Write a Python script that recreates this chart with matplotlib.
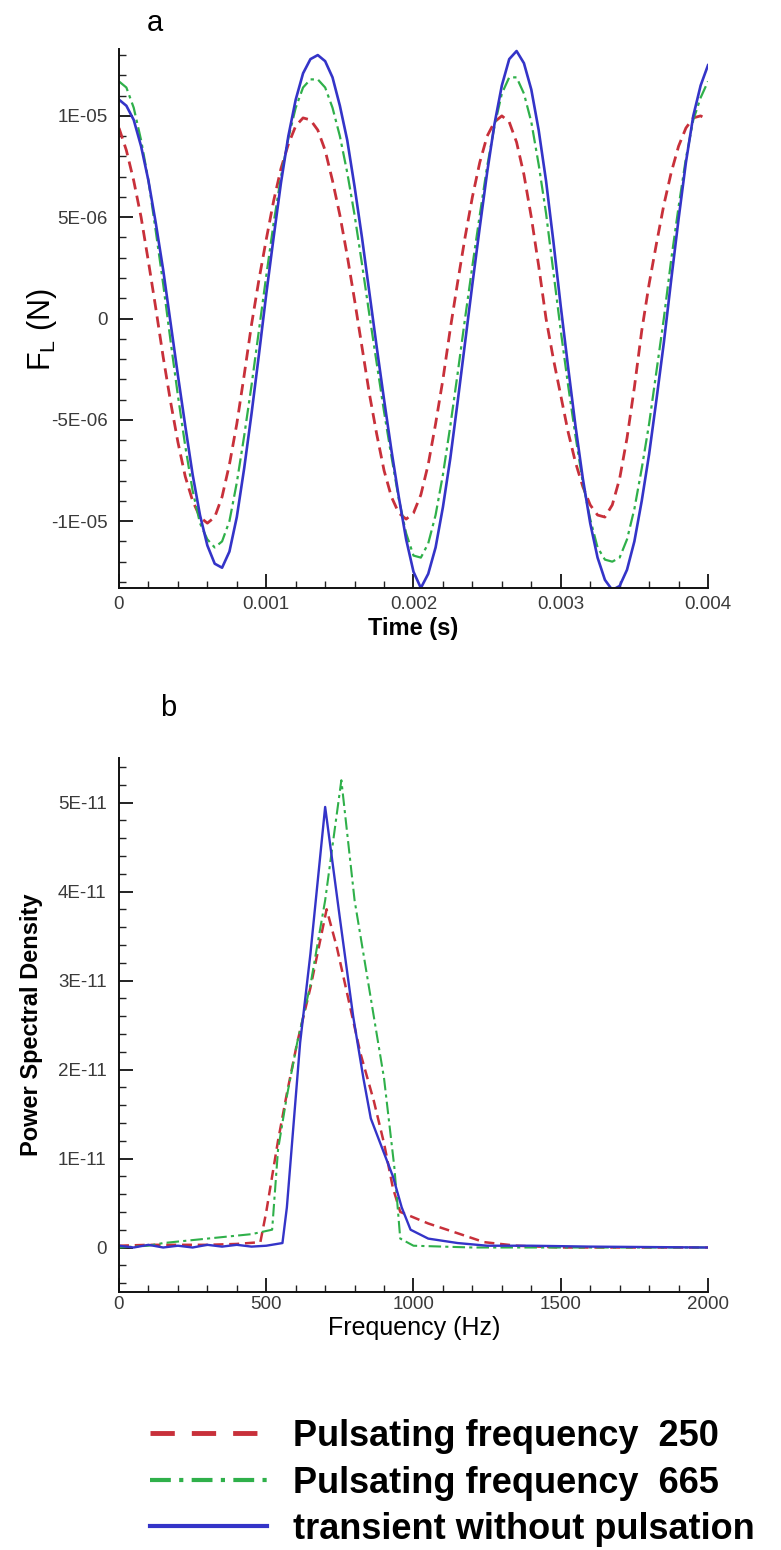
import numpy as np
import matplotlib
matplotlib.use("Agg")
import matplotlib.pyplot as plt
from matplotlib.lines import Line2D
from matplotlib.ticker import MultipleLocator

plt.rcParams['font.family'] = ['Liberation Sans', 'DejaVu Sans']
plt.rcParams['mathtext.fontset'] = 'custom'
plt.rcParams['mathtext.rm'] = 'Liberation Sans'

# ---------------- lift force vs time (values in 1e-6 N, every 5e-5 s) ----------------
time_s = np.linspace(0.0, 0.004, 81)

lift_250 = [9.4, 8.3, 6.8, 5.0, 2.8, 0.5, -1.9, -4.1, -6.1, -7.8,
            -9.0, -9.8, -10.1, -9.8, -8.8, -7.2, -5.2, -2.8, -0.3, 1.9,
            3.9, 5.8, 7.4, 8.6, 9.5, 9.9, 9.8, 9.3, 8.3, 6.8,
            5.1, 3.1, 0.9, -1.4, -3.7, -5.7, -7.5, -8.8, -9.6, -9.9,
            -9.6, -8.7, -7.2, -5.2, -3.0, -0.5, 1.8, 4.0, 6.0, 7.7,
            9.0, 9.7, 10.0, 9.7, 8.7, 7.1, 5.0, 2.6, 0.0, -2.0,
            -3.8, -5.6, -7.1, -8.3, -9.2, -9.7, -9.8, -9.2, -7.9, -5.9,
            -3.4, -0.6, 1.7, 3.7, 5.6, 7.2, 8.5, 9.4, 9.9, 10.0,
            9.8]

lift_665 = [11.7, 11.4, 10.4, 8.8, 6.8, 4.3, 1.7, -1.1, -3.8, -6.3,
            -8.5, -10.1, -10.9, -11.3, -11.0, -10.0, -8.1, -5.8, -3.3, -0.6,
            2.1, 4.7, 7.0, 8.9, 10.4, 11.4, 11.8, 11.8, 11.4, 10.4,
            9.0, 7.2, 5.1, 2.7, 0.2, -2.2, -4.6, -6.8, -8.9, -10.6,
            -11.7, -11.8, -11.1, -9.7, -7.7, -5.3, -2.7, 0.0, 2.6, 5.1,
            7.5, 9.5, 11.1, 11.9, 11.9, 11.1, 9.7, 7.6, 5.2, 2.3,
            -0.6, -3.3, -5.8, -8.1, -9.9, -11.3, -11.9, -12.0, -11.8, -10.9,
            -9.4, -7.4, -5.2, -2.6, 0.0, 2.9, 5.5, 7.9, 9.8, 10.9,
            11.7]

lift_steady = [10.8, 10.5, 9.8, 8.5, 6.8, 4.7, 2.4, -0.2, -2.8, -5.3,
               -7.7, -9.7, -11.2, -12.1, -12.3, -11.5, -9.8, -7.4, -4.7, -1.8,
               1.2, 4.0, 6.7, 9.0, 10.8, 12.1, 12.8, 13.0, 12.7, 11.9,
               10.5, 8.8, 6.5, 4.0, 1.3, -1.4, -4.0, -6.5, -8.8, -10.9,
               -12.5, -13.3, -12.6, -11.3, -9.3, -6.9, -4.1, -1.2, 1.7, 4.5,
               7.2, 9.6, 11.5, 12.8, 13.2, 12.6, 11.3, 9.3, 6.8, 3.8,
               0.6, -2.4, -5.3, -7.9, -10.1, -11.8, -12.9, -13.4, -13.2, -12.4,
               -11.0, -9.0, -6.7, -4.0, -1.2, 1.9, 4.9, 7.7, 10.0, 11.5,
               12.5]

# ---------------- power spectral density (values in 1e-11) ----------------
freq_250 = [0, 100, 200, 300, 400, 480, 500, 540, 570, 605, 650, 705, 740, 785,
            820, 865, 900, 930, 955, 1050, 1150, 1240, 1350, 1500, 2000]
psd_250 = [0.02, 0.03, 0.03, 0.03, 0.04, 0.06, 0.4, 1.2, 1.73, 2.3, 2.92, 3.8, 3.37, 2.7,
           2.18, 1.65, 1.17, 0.67, 0.4, 0.27, 0.16, 0.06, 0.02, 0.0, 0.0]

freq_665 = [0, 100, 150, 300, 450, 520, 540, 570, 605, 650, 700, 755, 800, 850,
            900, 935, 955, 1000, 1200, 2000]
psd_665 = [0.0, 0.02, 0.05, 0.1, 0.15, 0.2, 1.1, 1.7, 2.3, 2.95, 3.9, 5.25, 3.9, 2.9,
           1.9, 0.9, 0.1, 0.02, 0.0, 0.0]

freq_steady = [0, 50, 100, 150, 200, 250, 300, 350, 400, 450, 500, 555, 570, 615, 650,
               700, 750, 795, 830, 855, 930, 960, 990, 1050, 1150, 1250, 1400, 1600, 2000]
psd_steady = [0.02, 0.0, 0.03, 0.0, 0.02, 0.0, 0.03, 0.01, 0.03, 0.01, 0.02, 0.05, 0.45, 2.3, 3.3,
              4.95, 3.7, 2.6, 1.9, 1.45, 0.8, 0.45, 0.2, 0.1, 0.05, 0.02, 0.02, 0.01, 0.0]

labels = ['Pulsating frequency  250', 'Pulsating frequency  665', 'transient without pulsation']

time_ticks = [0, 0.001, 0.002, 0.003, 0.004]
time_ticklabels = ['0', '0.001', '0.002', '0.003', '0.004']
lift_ticks = [-1e-5, -5e-6, 0, 5e-6, 1e-5]
lift_ticklabels = ['-1E-05', '-5E-06', '0', '5E-06', '1E-05']
freq_ticks = [0, 500, 1000, 1500, 2000]
freq_ticklabels = ['0', '500', '1000', '1500', '2000']
psd_ticks = [0, 1e-11, 2e-11, 3e-11, 4e-11, 5e-11]
psd_ticklabels = ['0', '1E-11', '2E-11', '3E-11', '4E-11', '5E-11']

RED = '#c8303a'
GREEN = '#2fb04a'
BLUE = '#3434c8'
TICK_COL = '#3a3a3a'

fig = plt.figure(figsize=(7.81, 15.5), dpi=100)
W, H = 781.0, 1550.0


def px_axes(left, top, right, bottom):
    return fig.add_axes([left / W, 1 - bottom / H, (right - left) / W, (bottom - top) / H])


def style_axes(ax):
    for side in ('top', 'right'):
        ax.spines[side].set_visible(False)
    for side in ('left', 'bottom'):
        ax.spines[side].set_linewidth(1.4)
        ax.spines[side].set_color('#111111')
    ax.tick_params(which='major', direction='in', length=10, width=1.3, colors='#111111',
                   labelcolor=TICK_COL, labelsize=13.5)
    ax.tick_params(which='minor', direction='in', length=5, width=1.0, colors='#222222')
    ax.tick_params(axis='y', pad=8)
    ax.patch.set_alpha(0)


# ---- panel a ----
ax1 = px_axes(119, 49, 708, 588)
style_axes(ax1)
t = time_s
ax1.plot(t, np.array(lift_250) * 1e-6, color=RED, lw=2.0, dashes=(4, 2.3))
ax1.plot(t, np.array(lift_665) * 1e-6, color=GREEN, lw=1.6, dashes=(6, 2, 1.5, 2))
ax1.plot(t, np.array(lift_steady) * 1e-6, color=BLUE, lw=1.9)
ax1.set_xlim(0, 0.004)
ax1.set_ylim(-1.33e-5, 1.33e-5)
ax1.set_xticks(time_ticks)
ax1.set_xticklabels(time_ticklabels)
ax1.set_yticks(lift_ticks)
ax1.set_yticklabels(lift_ticklabels)
ax1.xaxis.set_minor_locator(MultipleLocator(0.0002))
ax1.yaxis.set_minor_locator(MultipleLocator(1e-6))
ax1.tick_params(axis='x', pad=6)
ax1.set_xlabel('Time (s)', fontsize=17, fontweight='bold', va='center')
ax1.xaxis.set_label_coords(0.5, -0.076)
ax1.set_ylabel(r'F$_\mathregular{L}$ (N)', fontsize=22, va='center')
ax1.yaxis.set_label_coords(-0.13, 0.48)
fig.text(155 / W, 1 - 23 / H, 'a', fontsize=21, ha='center', va='center')

# ---- panel b ----
ax2 = px_axes(119, 758, 708, 1292)
style_axes(ax2)
ax2.plot(freq_250, np.array(psd_250) * 1e-11, color=RED, lw=1.8, dashes=(4, 2.3))
ax2.plot(freq_665, np.array(psd_665) * 1e-11, color=GREEN, lw=1.5, dashes=(6, 2, 1.5, 2))
ax2.plot(freq_steady, np.array(psd_steady) * 1e-11, color=BLUE, lw=1.7)
ax2.set_xlim(0, 2000)
ax2.set_ylim(-0.5e-11, 5.5e-11)
ax2.set_xticks(freq_ticks)
ax2.set_xticklabels(freq_ticklabels)
ax2.set_yticks(psd_ticks)
ax2.set_yticklabels(psd_ticklabels)
ax2.xaxis.set_minor_locator(MultipleLocator(100))
ax2.yaxis.set_minor_locator(MultipleLocator(0.2e-11))
ax2.tick_params(axis='x', pad=3)
ax2.tick_params(axis='y', pad=9)
ax2.set_xlabel('Frequency (Hz)', fontsize=18, va='center')
ax2.xaxis.set_label_coords(0.501, -0.067)
ax2.set_ylabel('Power Spectral Density', fontsize=17, fontweight='bold', va='center')
ax2.yaxis.set_label_coords(-0.148, 0.5)
fig.text(168 / W, 1 - 708 / H, 'b', fontsize=21, ha='center', va='center')

# ---- legend below both panels ----
handles = [Line2D([], [], color=RED, lw=3.5, dashes=(5, 3.5)),
           Line2D([], [], color=GREEN, lw=3.0, dashes=(5, 2, 1, 2)),
           Line2D([], [], color=BLUE, lw=3.0)]
fig.legend(handles, labels, loc='upper left', bbox_to_anchor=(150 / W, 1 - 1419 / H),
           frameon=False, borderpad=0, borderaxespad=0, handlelength=3.25,
           handletextpad=0.72, labelspacing=0.32,
           prop={'family': 'Liberation Sans', 'weight': 'bold', 'size': 26})

fig.savefig('out.png', dpi=100)
